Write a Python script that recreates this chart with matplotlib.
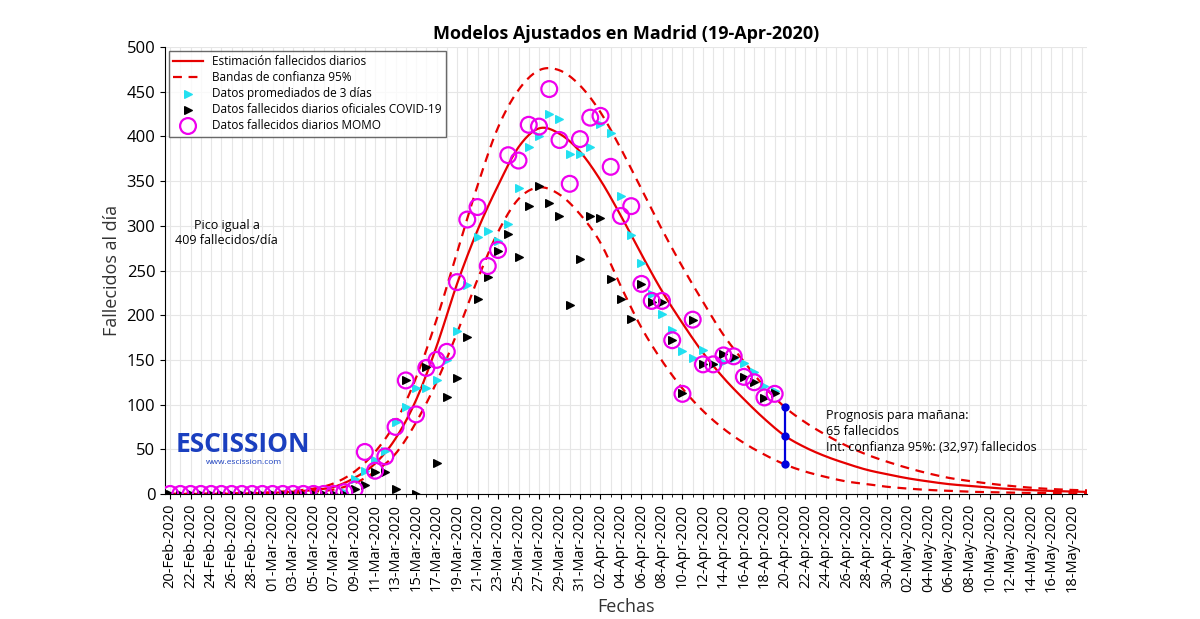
import matplotlib
matplotlib.use("Agg")
import matplotlib.pyplot as plt
import numpy as np
import pandas as pd

plt.rcParams['font.family'] = ['Open Sans', 'DejaVu Sans']

start = pd.Timestamp('2020-02-20')
# day index from 20-Feb-2020
momo_days = list(range(0, 60))
momo_vals = [0]*17 + [2, 5, 47, 26, 42, 75, 127, 89, 141, 150, 159, 237, 307, 321, 255, 273, 379,
             373, 413, 411, 453, 396, 347, 397, 421, 423, 366, 311, 322, 235, 216, 216, 172,
             112, 195, 145, 145, 155, 154, 131, 125, 108, 112]
avg_days = list(range(17, 60))
avg_vals = [2, 17, 26, 38, 48, 81, 97, 119, 119, 127, 150, 182, 234, 288, 294, 283, 302, 342,
            388, 400, 425, 420, 380, 380, 388, 414, 404, 333, 290, 258, 224, 201, 183, 160,
            152, 161, 145, 148, 152, 147, 137, 121, 115]
off_days = list(range(0, 60))
off_vals = [0]*18 + [5, 10, 25, 25, 5, 127, 0, 142, 35, 108, 130, 176, 218, 243, 272, 291, 265,
            322, 345, 325, 311, 211, 263, 311, 309, 240, 218, 196, 235, 215, 215, 172, 113,
            195, 145, 145, 157, 153, 131, 125, 107, 113]

fit_days = [0, 2, 4, 6, 8, 10, 12, 14, 16, 18, 20, 22, 24, 26, 28, 30, 32, 34, 36, 38, 40, 42,
            44, 46, 48, 50, 52, 54, 56, 58, 60, 62, 64, 66, 68, 70, 72, 74, 76, 78, 80, 82, 84,
            86, 88, 89.5]
fit_mid = [0, 0, 0.1, 0.3, 0.7, 1.3, 2.5, 4.5, 8, 18, 34, 62, 105, 165, 235, 295, 345, 388,
           409, 403, 383, 351, 311, 268, 227, 191, 158, 130, 106, 84, 65, 52, 42, 34, 27, 22,
           17.5, 14, 11, 9, 7, 5.5, 4.3, 3.4, 2.7, 2.3]
fit_up = [0, 0, 0.2, 0.5, 1, 2, 3.5, 6, 12, 25, 47, 80, 130, 195, 270, 345, 410, 452, 474, 474,
          457, 427, 386, 341, 296, 254, 215, 178, 148, 120, 97, 80, 66, 54, 44, 36, 29, 23, 18,
          14.5, 11.5, 9, 7, 5.5, 4.5, 4]
fit_lo = [0, 0, 0, 0.1, 0.3, 0.6, 1.2, 2.5, 5, 12, 25, 45, 80, 125, 180, 240, 293, 330, 343,
          335, 313, 281, 232, 186, 149, 118, 93, 73, 57, 44, 33, 25, 19, 14, 11, 8, 6, 4.5,
          3.5, 2.5, 2, 1.5, 1.2, 1, 0.8, 0.7]

prog_day = 60
prog_vals = [33, 65, 97]


def smooth(xs, ys, n=12):
    xs = np.asarray(xs, float); ys = np.asarray(ys, float)
    px = np.concatenate([[2*xs[0]-xs[1]], xs, [2*xs[-1]-xs[-2]]])
    py = np.concatenate([[2*ys[0]-ys[1]], ys, [2*ys[-1]-ys[-2]]])
    ox, oy = [], []
    for i in range(1, len(px)-2):
        t = np.linspace(0, 1, n, endpoint=False)
        for arr, out in ((px, ox), (py, oy)):
            p0, p1, p2, p3 = arr[i-1], arr[i], arr[i+1], arr[i+2]
            out.extend(0.5*((2*p1) + (-p0+p2)*t + (2*p0-5*p1+4*p2-p3)*t**2 + (-p0+3*p1-3*p2+p3)*t**3))
    ox.append(xs[-1]); oy.append(ys[-1])
    return np.array(ox), np.clip(np.array(oy), 0, None)


fig = plt.figure(figsize=(12, 6.19), dpi=100)
ax = fig.add_axes([0.1375, 0.202, 0.7685, 0.722])

ax.plot(*smooth(fit_days, fit_mid), color='#e60000', lw=1.6, label='Estimación fallecidos diarios', zorder=3)
ax.plot(*smooth(fit_days, fit_up), color='#e60000', lw=1.6, ls=(0, (4, 3)), label='Bandas de confianza 95%', zorder=3)
ax.plot(*smooth(fit_days, fit_lo), color='#e60000', lw=1.6, ls=(0, (4, 3)), zorder=3)
ax.scatter(avg_days, avg_vals, marker='>', s=30, color='#22e0f0', label='Datos promediados de 3 días', zorder=4)
ax.scatter(off_days, off_vals, marker='>', s=30, color='black', label='Datos fallecidos diarios oficiales COVID-19', zorder=5)
ax.scatter(momo_days, momo_vals, marker='o', s=130, facecolors='none', edgecolors='#ee00ee', linewidths=1.6,
           label='Datos fallecidos diarios MOMO', zorder=6)
ax.plot([prog_day]*3, prog_vals, color='#0000dd', lw=1.6, marker='o', ms=5, zorder=7)

ax.set_xlim(-0.5, 89.5)
ax.set_ylim(0, 500)
ax.set_yticks(range(0, 501, 50))
ticks = list(range(0, 89, 2))
labels = [(start + pd.Timedelta(days=d)).strftime('%d-%b-%Y') for d in ticks]
ax.set_xticks(ticks)
ax.set_xticklabels(labels, rotation=90, fontsize=10.5)
ax.set_xticks(range(0, 90), minor=True)
ax.tick_params(axis='y', labelsize=12)
ax.grid(True, which='both', axis='x', color='#e6e6e6', lw=0.8)
ax.grid(True, which='major', axis='y', color='#e6e6e6', lw=0.8)
ax.set_axisbelow(True)
for s in ['top', 'right']:
    ax.spines[s].set_visible(False)
ax.set_xlabel('Fechas', fontsize=13, color='#333333')
ax.set_ylabel('Fallecidos al día', fontsize=13, color='#333333')
ax.set_title('Modelos Ajustados en Madrid (19-Apr-2020)', fontsize=13, fontweight='bold', pad=6)

leg = ax.legend(loc='upper left', fontsize=8.5, frameon=True, fancybox=False, edgecolor='#444444',
                borderaxespad=0.3, handlelength=2.5, labelspacing=0.25)

ax.text(5.5, 292, 'Pico igual a\n409 fallecidos/día', ha='center', va='center', fontsize=9)
ax.text(64, 70, 'Prognosis para mañana:\n65 fallecidos\nInt. confianza 95%: (32,97) fallecidos',
        ha='left', va='center', fontsize=9, linespacing=1.3)
ax.text(0.5, 55, 'ESCISSION', fontsize=19, fontweight='bold', color='#1a3fbf', ha='left', va='center')
ax.text(3.5, 35, 'www.escission.com', fontsize=6, color='#1a3fbf', ha='left', va='center')

fig.savefig('out.png', dpi=100)
